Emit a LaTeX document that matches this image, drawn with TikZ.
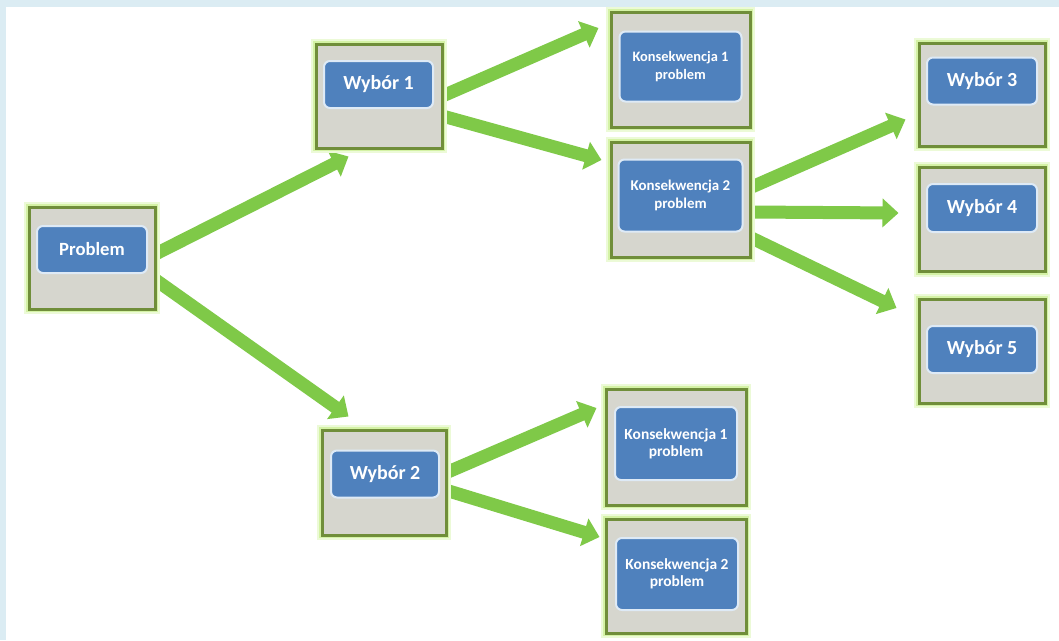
\documentclass[tikz,border=0pt]{standalone}
\usepackage{fontspec}
\setmainfont{Carlito}
\usetikzlibrary{arrows.meta,calc}
\definecolor{bgblue}{RGB}{219,236,243}
\definecolor{boxgray}{RGB}{214,214,206}
\definecolor{boxline}{RGB}{112,142,58}
\definecolor{glow}{RGB}{212,242,165}
\definecolor{glowouter}{RGB}{236,250,215}
\definecolor{arrgreen}{RGB}{127,201,72}
\definecolor{innerblue}{RGB}{79,129,189}
\definecolor{innerline}{RGB}{222,234,246}
\pgfdeclarelayer{back}
\pgfdeclarelayer{mid}
\pgfsetlayers{back,mid,main}
\begin{document}
\begin{tikzpicture}[x=0.75pt,y=-0.75pt,
  sz/.style 2 args={minimum width=#1*0.75pt, minimum height=#2*0.75pt},
  outerbox/.style={draw=boxline, line width=2.25pt, fill=boxgray, inner sep=0pt,
    preaction={draw=glowouter, line width=8pt},
    preaction={draw=glow, line width=5pt}},
  innerbox/.style={draw=innerline, line width=1.5pt, fill=innerblue,
    rounded corners=4.5pt, text=white, inner sep=0pt, align=center},
  wtext/.style={font=\fontsize{15}{18}\selectfont\bfseries},
  ptext/.style={font=\fontsize{14}{17}\selectfont\bfseries},
  ktext/.style={font=\fontsize{#1}{13}\selectfont\bfseries},
  arr/.style={draw=arrgreen, line width=9.75pt, -{Triangle[length=12pt,width=21pt]}}]
\useasboundingbox (0,0) rectangle (1059,640);
\begin{pgfonlayer}{back}
  \fill[white] (0,0) rectangle (1059,640);
  \fill[bgblue] (0,0) rectangle (1059,7);
  \fill[bgblue] (0,0) rectangle (6,640);
\end{pgfonlayer}

% outer boxes
\node[outerbox, sz={126}{102}] (p)   at (92,258) {};
\node[outerbox, sz={126}{104}] (w1)  at (379,96) {};
\node[outerbox, sz={139}{115}] (k1a) at (680.5,69.5) {};
\node[outerbox, sz={139}{115}] (k2a) at (680.5,199.5) {};
\node[outerbox, sz={126}{103}] (w3)  at (982,94.5) {};
\node[outerbox, sz={126}{104}] (w4)  at (982,219.5) {};
\node[outerbox, sz={126}{104}] (w5)  at (982,351) {};
\node[outerbox, sz={124}{105}] (w2)  at (384,482.5) {};
\node[outerbox, sz={140}{116}] (k1b) at (676,447) {};
\node[outerbox, sz={140}{114}] (k2b) at (676,576) {};

% inner labels
\node[innerbox, ptext, sz={110}{47}] (pi)   at (92,249.5) {Problem};
\node[innerbox, wtext, sz={109}{47}] (w1i)  at (378.5,84.5) {Wybór 1};
\node[innerbox, ktext=10.8, sz={122}{70}] (k1ai) at (680.5,66.5) {Konsekwencja 1\\problem};
\node[innerbox, ktext=11.2, sz={124}{72}] (k2ai) at (680.5,195.5) {Konsekwencja 2\\problem};
\node[innerbox, wtext, sz={110}{47}] (w3i)  at (982,81) {Wybór 3};
\node[innerbox, wtext, sz={110}{48}] (w4i)  at (982,208) {Wybór 4};
\node[innerbox, wtext, sz={110}{47}] (w5i)  at (982,349.5) {Wybór 5};
\node[innerbox, wtext, sz={108}{47}] (w2i)  at (385,474) {Wybór 2};
\node[innerbox, ktext=11.6, sz={122}{73}] (k1bi) at (676,443.5) {Konsekwencja 1\\problem};
\node[innerbox, ktext=11.6, sz={122}{72}] (k2bi) at (677,574) {Konsekwencja 2\\problem};

% arrows
\begin{pgfonlayer}{mid}
\draw[arr] ($(p.east)+(-3,-3)$)   -- ($(w1.south west)+(34,7)$);
\draw[arr] ($(p.east)+(-5,19)$)   -- ($(w2.north west)+(28,-12)$);
\draw[arr] ($(w1.east)+(-1,0)$)   -- ($(k1a.west)+(-11,-41.5)$);
\draw[arr] ($(w1.east)+(-1,20)$)  -- ($(k2a.west)+(-8,-39.5)$);
\draw[arr] ($(k2a.east)+(-2,-11.5)$) -- ($(w3.south west)+(-12,-28)$);
\draw[arr] ($(k2a.east)+(-2,12.5)$)  -- ($(w4.west)+(-19,-6.5)$);
\draw[arr] ($(k2a.east)+(-2,37.5)$)  -- ($(w5.west)+(-21,-43)$);
\draw[arr] ($(w2.east)+(-2,-9.5)$)   -- ($(k1b.west)+(-8,-39)$);
\draw[arr] ($(w2.east)+(-2,7.5)$)    -- ($(k2b.west)+(-5,-39)$);
\end{pgfonlayer}
\end{tikzpicture}
\end{document}
